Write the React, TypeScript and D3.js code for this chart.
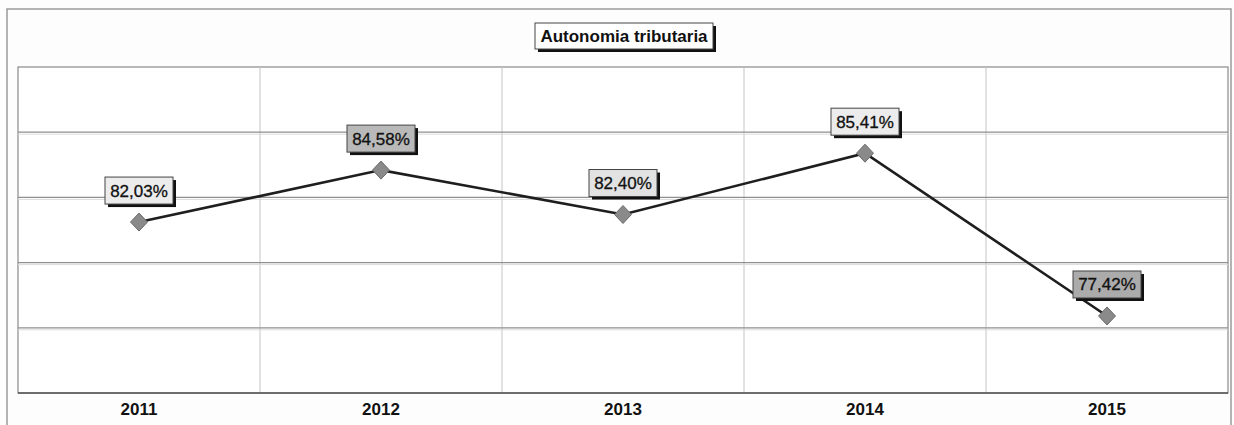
import React from "react";
import * as d3 from "d3";

const years = ["2011", "2012", "2013", "2014", "2015"];
const values = [82.03, 84.58, 82.4, 85.41, 77.42];
const labelTexts = ["82,03%", "84,58%", "82,40%", "85,41%", "77,42%"];
const labelFills = ["#ececec", "#b9b9b9", "#e2e2e2", "#ececec", "#ababab"];
const title = "Autonomia tributaria";

const W = 1234;
const H = 425;
const plot = { left: 18, right: 1228, top: 67, bottom: 393 };
const yMin = 73.64;
const yStep = 3.2;

export default function App() {
  const x = d3.scaleBand<string>().domain(years).range([plot.left, plot.right]).padding(0);
  const cx = (yr: string) => (x(yr) as number) + x.bandwidth() / 2;
  const y = d3.scaleLinear().domain([yMin, yMin + yStep * 5]).range([plot.bottom, plot.top]);
  const gridVals = d3.range(1, 5).map((i) => yMin + i * yStep);
  const pts = years.map((yr, i) => [cx(yr), y(values[i])] as [number, number]);
  const line = d3.line();
  const font = "'Liberation Sans', Arial, sans-serif";
  const boxW = 68;
  const boxH = 27;

  return (
    <svg width={W} height={H} style={{ position: "absolute", left: 0, top: 0, background: "#fff" }} fontFamily={font}>
      <rect x={0} y={0} width={W} height={H} fill="#fdfdfd" />
      {/* outer frame */}
      <rect x={7} y={9} width={1224} height={430} fill="none" stroke="#9a9a9a" strokeWidth={1.5} />
      {/* plot area */}
      <rect x={plot.left} y={plot.top} width={plot.right - plot.left} height={plot.bottom - plot.top} fill="#fff" stroke="#8a8a8a" strokeWidth={1.2} />
      {/* vertical gridlines */}
      {years.slice(1).map((yr) => (
        <line key={yr} x1={x(yr)} x2={x(yr)} y1={plot.top} y2={plot.bottom} stroke="#c4c4c4" strokeWidth={1} />
      ))}
      {/* horizontal gridlines */}
      {gridVals.map((v, i) => (
        <g key={i}>
          <line x1={plot.left} x2={plot.right} y1={y(v)} y2={y(v)} stroke="#8f8f8f" strokeWidth={1.3} />
          <line x1={plot.left} x2={plot.right} y1={y(v) + 2} y2={y(v) + 2} stroke="#dcdcdc" strokeWidth={1} />
        </g>
      ))}
      {/* bottom axis */}
      <line x1={plot.left} x2={plot.right} y1={plot.bottom} y2={plot.bottom} stroke="#555" strokeWidth={1.6} />
      {/* x labels */}
      {years.map((yr) => (
        <text key={yr} x={cx(yr)} y={415} textAnchor="middle" fontSize={17} fontWeight="bold" fill="#111">
          {yr}
        </text>
      ))}
      {/* line */}
      <path d={line(pts) || ""} fill="none" stroke="#1e1e1e" strokeWidth={2.6} />
      {/* markers */}
      {pts.map(([px, py], i) => (
        <path key={i} d={`M${px},${py - 9} L${px + 8.5},${py} L${px},${py + 9} L${px - 8.5},${py} Z`} fill="#8a8a8a" stroke="#6a6a6a" strokeWidth={1} />
      ))}
      {/* labels */}
      {pts.map(([px, py], i) => {
        const bx = px - boxW / 2;
        const by = py - 18 - boxH;
        return (
          <g key={i}>
            <rect x={bx + 3} y={by + 3} width={boxW} height={boxH} fill="#111" />
            <rect x={bx} y={by} width={boxW} height={boxH} fill={labelFills[i]} stroke="#444" strokeWidth={1} />
            <text x={px} y={by + 19.5} textAnchor="middle" fontSize={17} fill="#111" stroke="#111" strokeWidth={0.3}>
              {labelTexts[i]}
            </text>
          </g>
        );
      })}
      {/* title */}
      <g>
        <rect x={538} y={26} width={178} height={26} fill="#111" />
        <rect x={535} y={23} width={178} height={26} fill="#fff" stroke="#444" strokeWidth={1} />
        <text x={624} y={42} textAnchor="middle" fontSize={17} fontWeight="bold" fill="#111">
          {title}
        </text>
      </g>
    </svg>
  );
}
